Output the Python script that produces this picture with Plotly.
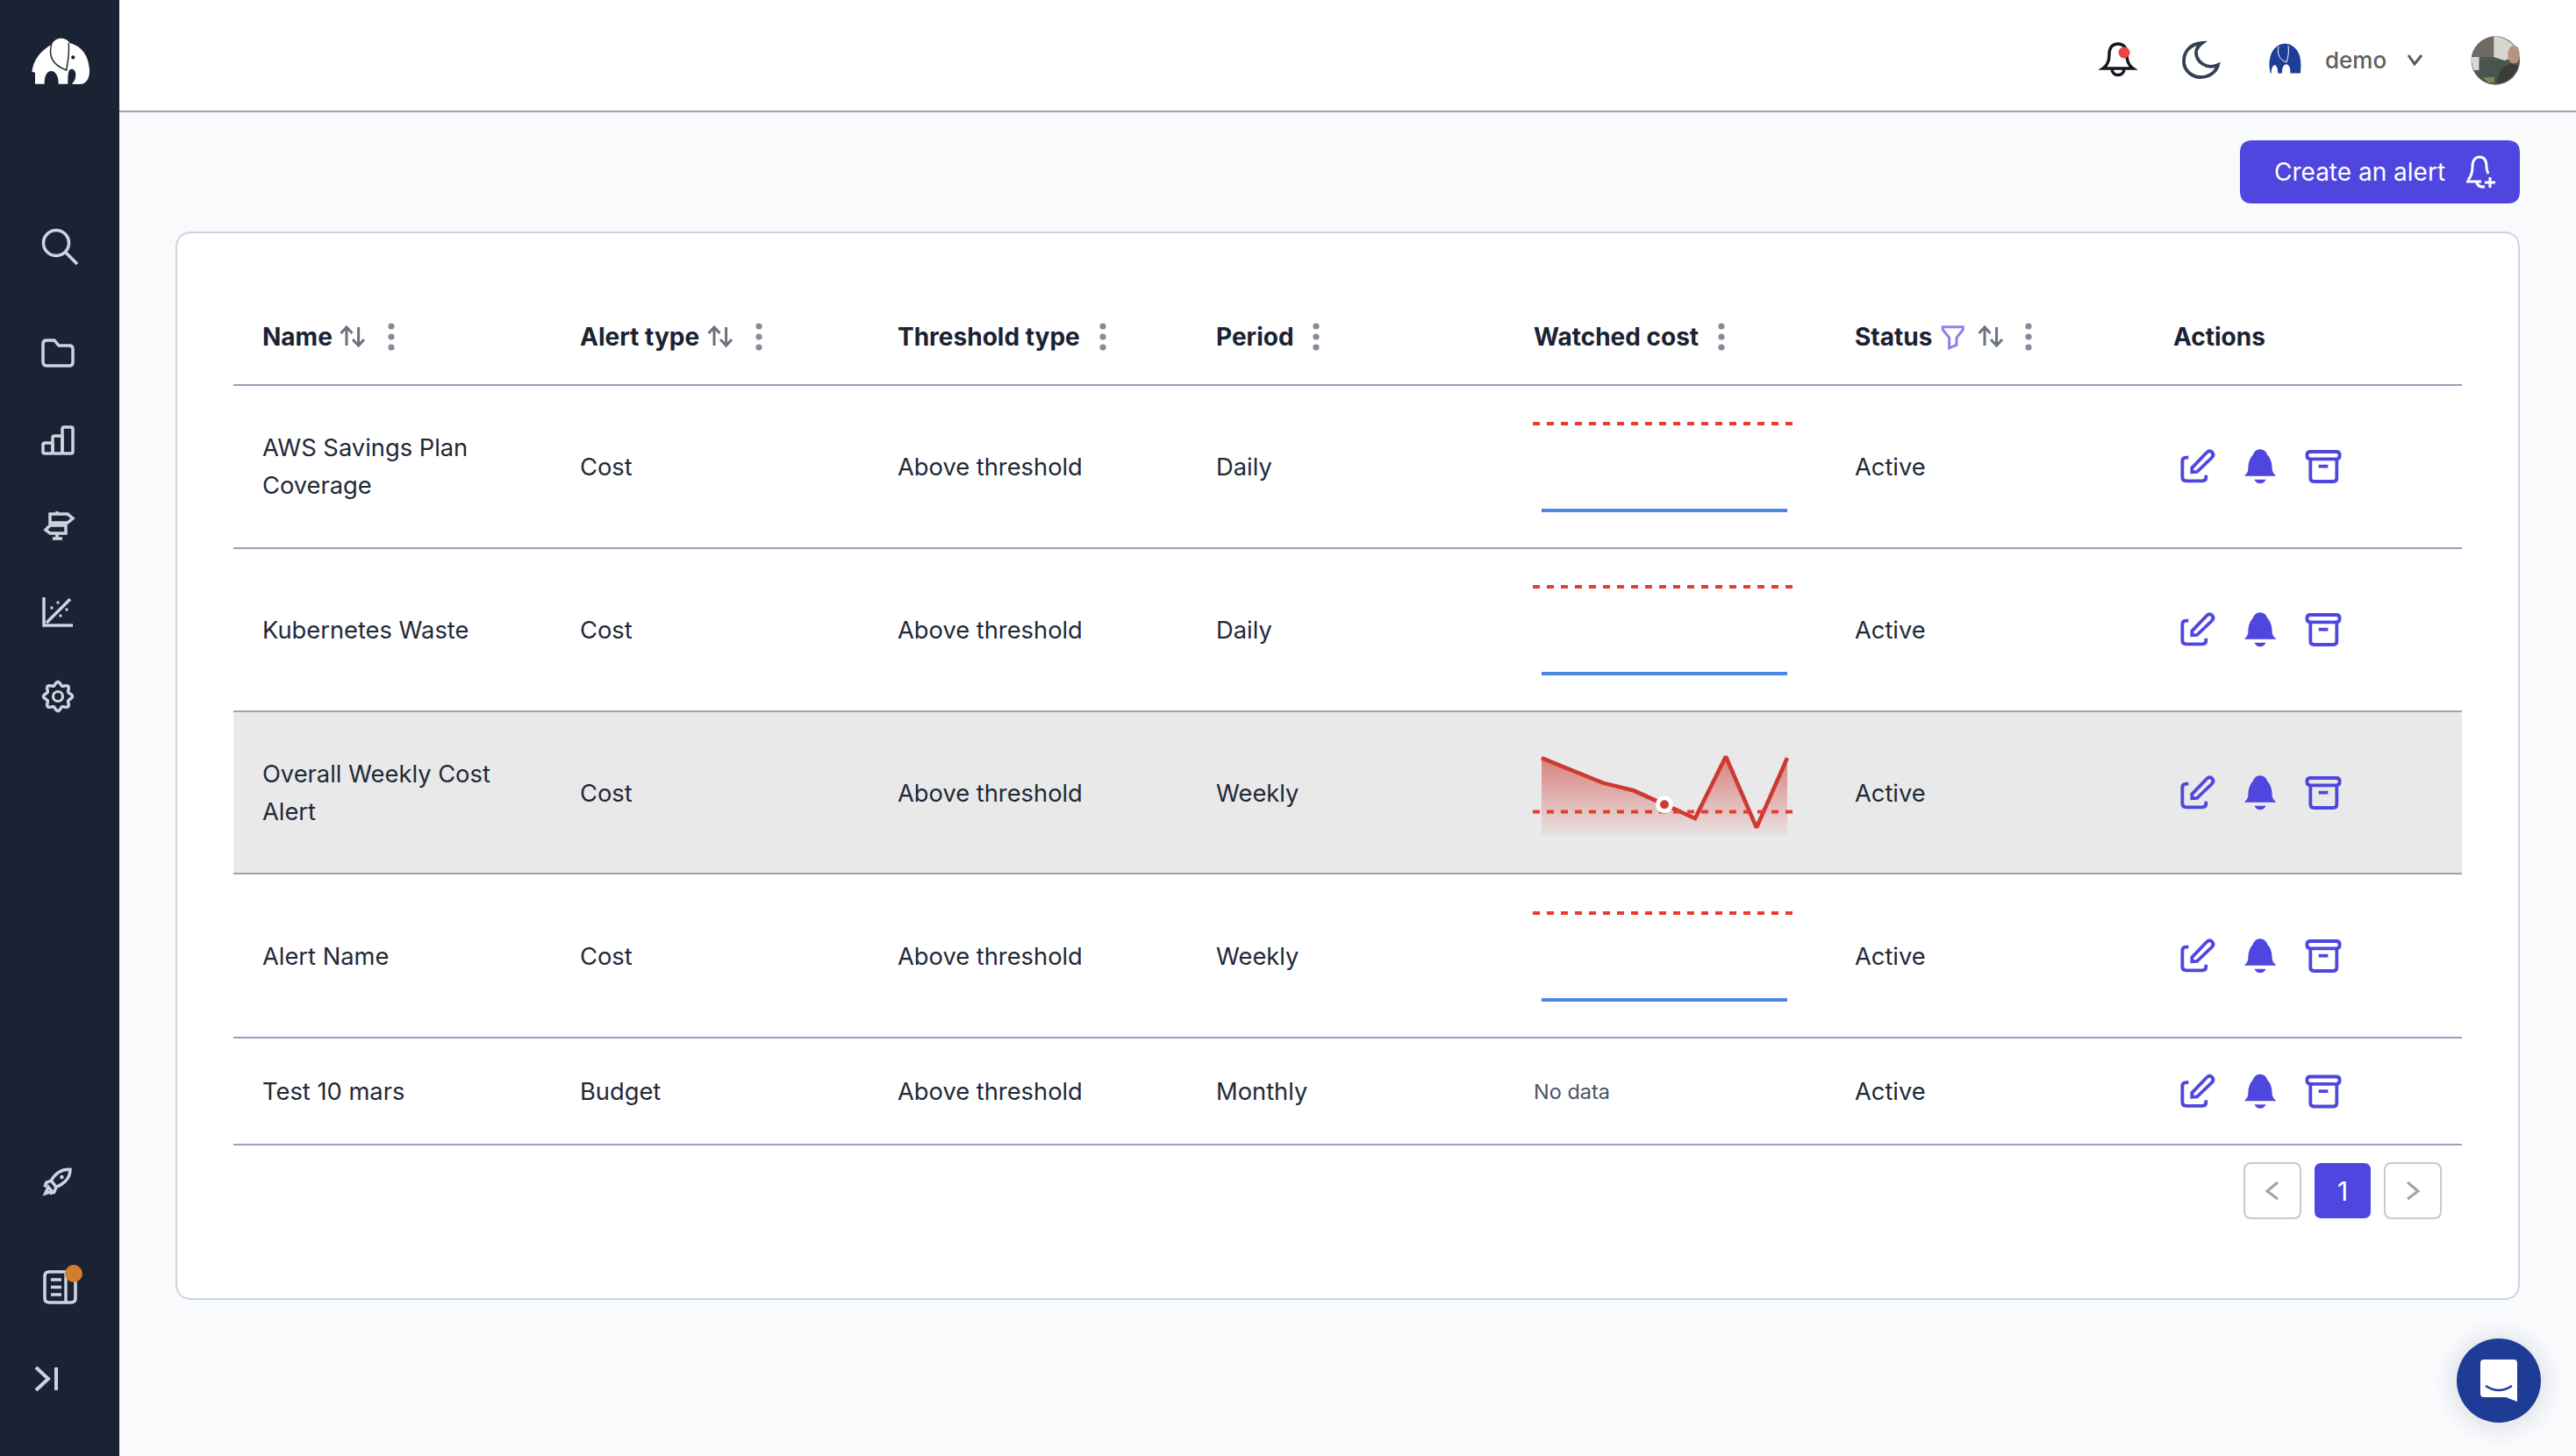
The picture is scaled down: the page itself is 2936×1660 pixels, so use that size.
import math
import re
import plotly.graph_objects as go

W, H = 2936, 1660

# table content
headers = ["Name", "Alert type", "Threshold type", "Period", "Watched cost", "Status", "Actions"]
names = [["AWS Savings Plan", "Coverage"], ["Kubernetes Waste"], ["Overall Weekly Cost", "Alert"],
         ["Alert Name"], ["Test 10 mars"]]
alert_types = ["Cost", "Cost", "Cost", "Cost", "Budget"]
threshold_types = ["Above threshold"] * 5
periods = ["Daily", "Daily", "Weekly", "Weekly", "Monthly"]
statuses = ["Active"] * 5

# watched cost sparklines, None = "No data"
threshold = 100
cost_aws = [0, 0, 0, 0, 0, 0, 0, 0, 0]
cost_k8s = [0, 0, 0, 0, 0, 0, 0, 0, 0]
cost_weekly = [326, 272, 221, 189, 130, 72, 332, 33, 326]
cost_alert = [0, 0, 0, 0, 0, 0, 0, 0, 0]
sparks = [cost_aws, cost_k8s, cost_weekly, cost_alert, None]

# layout
col_x = [296.5, 659, 1021, 1383.5, 1746, 2112, 2475]
row_y = [532, 718, 904, 1090, 1244.5]
row_lines = [439, 625, 811, 996, 1183, 1305]
table_l, table_r = 266, 2806
spark_zero_y = [582, 768, None, 1140]
spark_thr_y = [483, 669, None, 1041]

INDIGO = "#4f46e0"
SIDE = "#cbd5e1"
LINE = "#94a3b8"
INK = "#1a2333"
TEXT = "#1f2937"
FONT = "Inter"

shapes = []
notes = []


def tr(path, dx=0, dy=0, sx=1.0, sy=None):
    # move and scale an absolute M/L/C/Q/Z path into page pixels
    sy = sx if sy is None else sy
    out = []
    is_x = True
    for tok in re.findall(r"[MLCQZ]|-?\d+\.?\d*", path):
        if tok.isalpha():
            out.append(tok)
            is_x = True
        else:
            v = float(tok)
            out.append(f"{dx + v * sx:.2f}" if is_x else f"{dy + v * sy:.2f}")
            is_x = not is_x
    return " ".join(out)


def stroke(path, color=SIDE, width=3.5):
    shapes.append(dict(type="path", path=path, line=dict(color=color, width=width), xref="x", yref="y",
                       fillcolor="rgba(0,0,0,0)", layer="below"))


def solid(path, color):
    shapes.append(dict(type="path", path=path, fillcolor=color, line=dict(width=0), xref="x", yref="y", layer="below"))


def rect(x0, y0, x1, y1, fill=None, color=None, width=0):
    shapes.append(dict(type="rect", x0=x0, y0=y0, x1=x1, y1=y1, xref="x", yref="y", layer="below",
                       fillcolor=fill or "rgba(0,0,0,0)", line=dict(color=color or "rgba(0,0,0,0)", width=width)))


def rrect(x0, y0, x1, y1, r, fill=None, color=None, width=0):
    p = (f"M {x0 + r} {y0} L {x1 - r} {y0} Q {x1} {y0} {x1} {y0 + r} L {x1} {y1 - r} Q {x1} {y1} {x1 - r} {y1} "
         f"L {x0 + r} {y1} Q {x0} {y1} {x0} {y1 - r} L {x0} {y0 + r} Q {x0} {y0} {x0 + r} {y0} Z")
    shapes.append(dict(type="path", path=p, xref="x", yref="y", layer="below", fillcolor=fill or "rgba(0,0,0,0)",
                       line=dict(color=color or "rgba(0,0,0,0)", width=width)))


def circle(cx, cy, r, fill=None, color=None, width=0):
    shapes.append(dict(type="circle", x0=cx - r, y0=cy - r, x1=cx + r, y1=cy + r, xref="x", yref="y", layer="below",
                       fillcolor=fill or "rgba(0,0,0,0)", line=dict(color=color or "rgba(0,0,0,0)", width=width)))


def hline(x0, x1, y):
    shapes.append(dict(type="line", x0=x0, x1=x1, y0=y, y1=y, xref="x", yref="y", layer="below",
                       line=dict(color=LINE, width=2)))


def text(x, y, s, size=27.3, color=TEXT, weight=400, anchor="left"):
    notes.append(dict(x=x, y=y, xref="x", yref="y", text=s, showarrow=False, xanchor=anchor, yanchor="middle",
                      font=dict(family=FONT, size=size, color=color, weight=weight)))


ELEPHANT = ("M48 197 L48 158 L37 155 C42 120 62 85 105 62 C112 45 130 38 145 42 C160 46 165 55 167 58 "
            "C205 66 232 100 234 150 C235 180 222 198 200 198 L173 197 C183 190 187 178 187 165 "
            "C187 150 175 140 165 150 C160 158 160 180 160 197 L128 197 C128 170 118 153 103 153 "
            "C88 153 80 170 80 197 Z")
EAR = "M104 62 C95 95 100 130 155 150 C160 125 165 90 163 58"

# small header logo is narrower, with a stubbier outline
LOGO_SMALL = ("M6 44 C3 30 5 14 14 7 C19 2 28 2 33 7 C41 13 44 26 42 44 L30 44 C30 35 28 32 25 32 C22 32 20 35 20 44 "
              "L15 44 C15 36 13 32 10 33 C8 35 7 38 7 44 Z")

# page pieces
rect(0, 0, 136, H, fill="#1a2333")
rect(136, 0, W, 127, fill="#ffffff")
hline(136, W, 127)
rrect(201, 265, 2871, 1481, 18, fill="#ffffff", color="#cbd5e1", width=2)
rect(table_l, 811, table_r, 996, fill="#e9e9e9")
for y in row_lines:
    hline(table_l, table_r, y)

# sidebar
solid(tr(ELEPHANT, 24, 30, 1 / 3), "#ffffff")
stroke(tr(EAR, 24, 30, 1 / 3), "#1a2333", 1.4)
circle(24 + 178 / 3, 30 + 106 / 3, 2.2, fill="#1a2333")

circle(64, 277, 14.5, color=SIDE, width=3.6)
stroke("M 75 288 L 88 301", SIDE, 3.8)
stroke("M 49 412 L 49 392 Q 49 388 53 388 L 62 388 L 67 394 L 79 394 Q 83 394 83 398 L 83 413 Q 83 417 79 417 "
       "L 53 417 Q 49 417 49 412 Z")
rrect(49, 505, 60, 517, 2, color=SIDE, width=3.5)
rrect(60, 497, 71, 517, 2, color=SIDE, width=3.5)
rrect(71, 487, 83, 517, 2, color=SIDE, width=3.5)
stroke("M 57 586 L 77 586 L 83 591 L 77 596 L 57 596 Z")
stroke("M 52 604 L 57 599 L 75 599 L 75 608 L 57 608 Z")
stroke("M 65 583 L 65 586 M 65 608 L 65 614 M 60 614 L 71 614")
stroke("M 50 681 L 50 713 L 83 713 M 53 710 L 80 683")
for dx, dy in [(59, 693), (66, 687), (76, 695), (69, 702)]:
    circle(dx, dy, 1.7, fill=SIDE)
gear = []
for i in range(64):
    a = 2 * math.pi * i / 64
    r = 14.6 + 1.9 * math.cos(8 * a)
    gear.append(f"{'M' if i == 0 else 'L'} {66 + r * math.cos(a):.2f} {794 + r * math.sin(a):.2f}")
stroke(" ".join(gear) + " Z")
circle(66, 794, 5.5, color=SIDE, width=3.2)
stroke(tr("M240 100 C212 98 190 112 175 138 L192 160 C218 150 240 130 240 100 Z M175 138 L158 145 L153 160 "
          "M192 160 L185 178 L170 182 M165 160 L155 182 L178 175 Z", 0, 1300, 1 / 3))
circle(70.5, 1342, 2.2, fill=SIDE)
rrect(51, 1450, 86, 1485, 5, color=SIDE, width=3.6)
stroke("M 75 1450 L 75 1485 M 58 1459 L 70 1459 M 58 1467.5 L 70 1467.5 M 58 1476 L 70 1476", SIDE, 3.4)
circle(84, 1452, 10, fill="#d17f2e")
stroke("M 41 1559 L 55 1572 L 41 1585 M 64 1559 L 64 1585", SIDE, 4)

# top bar
stroke("M 2397 78 C 2403 74 2404 68 2404 62 C 2404 54 2408 50 2414 50 C 2420 50 2424 54 2424 62 C 2424 68 2425 74 "
       "2431 78 L 2397 78 Z M 2407 78 C 2407 88 2421 88 2421 78", "#15171f", 3.5)
circle(2421, 60, 6.5, fill="#ef4444")
stroke("M 2510 49 C 2495 50 2489 60 2489 70 C 2489 80 2498 88 2508 88 C 2518 88 2526 82 2528 74 "
       "C 2515 80 2503 70 2503 60 C 2503 56 2506 52 2510 49 Z", "#334155", 3.8)
solid(tr(LOGO_SMALL, 2582, 47, 0.95, 0.83), "#1e3d96")
stroke("M 2597 53 C 2595 62 2598 68 2606 71 C 2608 66 2609 58 2608 52", "#ffffff", 1)
text(2648, 68, "demo", size=26, color="#5f5f5f", weight=500)
stroke("M 2745 63 L 2752 73 L 2760 63", "#555b66", 3)

# avatar, roughly
circle(2844.3, 69, 27.7, fill="#55584f")
for p, c in [("M38 90 C50 55 80 32 112 30 L112 100 L38 100 Z", "#6e6a62"),
             ("M112 29 C150 30 185 55 198 90 L150 112 L112 100 Z", "#d8d5ce"),
             ("M36 100 L62 100 L62 145 L44 145 C38 130 35 115 36 100 Z", "#d5dbdc"),
             ("M62 112 L150 112 L150 180 L100 193 C85 188 70 178 62 166 Z", "#47554f"),
             ("M75 170 L115 168 L112 188 L92 188 Z", "#7c8a52"),
             ("M122 192 C125 150 145 130 170 122 L196 130 C190 155 165 185 122 192 Z", "#3d3d35"),
             ("M160 92 C160 70 172 60 182 60 C192 60 200 72 200 92 C200 110 195 122 180 122 C168 122 160 110 160 92 Z",
              "#b89480")]:
    solid(tr(p, 2805, 31.7, 1 / 3), c)

rrect(2553, 160, 2872, 232, 14, fill=INDIGO)
text(2589.5, 196, "Create an alert", size=28, color="#ffffff", weight=400)
stroke("M 2813 205 C 2818 200 2818 192 2818 190 C 2818 182 2822 179 2826 179 C 2831 179 2834 182 2834 190 "
       "C 2834 194 2835 196 2836 198 M 2811 207 L 2828 207 M 2823 207 C 2823 213 2828 213 2832 213 "
       "M 2832 208 L 2844 208 M 2838 202 L 2838 214", "#ffffff", 3)

# table header
for x, h in zip(col_x, headers):
    text(x, 384, h, size=28, color=INK, weight=700)
for x in [446, 865, 1257, 1500, 1962, 2312]:
    for dy in (-12, 0, 12):
        circle(x, 384 + dy, 3.6, fill="#868b99")
for off in [0, 419, 1867]:
    stroke(tr("M395 394 L395 373 M388.5 380 L395 373 L401.5 380 M408.6 373 L408.6 394 M402 387 L408.6 394 L415 387",
              off, 0), "#6b7280", 3)
stroke(tr("M283 68 L352 68 L352 78 L330 105 L330 130 L305 140 L305 105 L283 78 Z", 2120, 350, 1 / 3), "#8b83ee", 3)

# table rows
for i, y in enumerate(row_y):
    lines = names[i]
    for j, line in enumerate(lines):
        text(col_x[0], y + (j - (len(lines) - 1) / 2) * 43, line)
    text(col_x[1], y, alert_types[i])
    text(col_x[2], y, threshold_types[i])
    text(col_x[3], y, periods[i])
    text(col_x[5], y, statuses[i])
    if sparks[i] is None:
        text(col_x[4], y, "No data", size=23.5, color="#4b5563")
    # action icons
    top = y - 52
    stroke(tr("M163 125 L155 125 Q142 125 142 138 L142 192 Q142 205 155 205 L210 205 Q223 205 223 192 L223 185",
              2440, top, 1 / 3), INDIGO, 3.8)
    stroke(tr("M175 160 L225 108 Q235 98 244 107 Q252 116 242 126 L192 174 L175 175 Z", 2440, top, 1 / 3), INDIGO, 3.8)
    solid(tr("M408 97 C425 97 430 110 434 118 C446 130 449 150 449 165 C450 180 462 184 462 188 L355 188 "
             "C355 184 366 180 367 165 C367 150 370 130 382 118 C386 110 391 97 408 97 Z", 2440, top, 1 / 3), INDIGO)
    solid(tr("M388 200 L428 200 Q420 214 408 214 Q396 214 388 200 Z", 2440, top, 1 / 3), INDIGO)
    rrect(2440 + 568 / 3, top + 105 / 3, 2440 + 680 / 3, top + 130 / 3, 4, color=INDIGO, width=3.8)
    stroke(tr("M580 130 L580 195 Q580 207 592 207 L658 207 Q670 207 670 195 L670 130 M608 155 L640 155",
              2440, top, 1 / 3), INDIGO, 3.8)

# pagination
rrect(2558, 1326, 2622, 1389, 8, fill="#ffffff", color="#c5cad3", width=2)
rrect(2638, 1326, 2702, 1389, 8, fill=INDIGO)
rrect(2718, 1326, 2782, 1389, 8, fill="#ffffff", color="#c5cad3", width=2)
text(2670, 1358, "1", size=30, color="#ffffff", anchor="center")
stroke("M 2596 1348 L 2584 1358 L 2596 1367", "#a3a3a3", 3)
stroke("M 2744 1348 L 2756 1358 L 2744 1367", "#a3a3a3", 3)

# chat bubble
for r, a in [(70, 0.012), (64, 0.014), (58, 0.018), (53, 0.025)]:
    circle(2848, 1576, r, fill=f"rgba(30,41,59,{a})")
circle(2848, 1574, 48, fill="#1e3c96")
solid("M 2831 1550 L 2865 1550 Q 2869 1550 2869 1554 L 2869 1598 L 2856 1593 L 2831 1593 Q 2827 1593 2827 1589 "
      "L 2827 1554 Q 2827 1550 2831 1550 Z", "#ffffff")
stroke("M 2833 1580 Q 2848 1590 2863 1580", "#1e3c96", 2.4)

# sparklines on their own small axes
fig = go.Figure()
fig.add_trace(go.Scatter(x=[0, W], y=[0, H], mode="markers", marker=dict(opacity=0), showlegend=False))

layout_axes = {}
x_lo, x_hi = -10 / 35, 8 + 6 / 35
for i, vals in enumerate(sparks[:4]):
    ax = i + 2
    if i == 2:
        zero, ppu, top, bottom = 952.5, 0.271, 850, 962
    else:
        zero, ppu = spark_zero_y[i], (spark_zero_y[i] - spark_thr_y[i]) / threshold
        top, bottom = spark_thr_y[i] - 12, zero + 12
    layout_axes[f"xaxis{ax}"] = dict(domain=[1747 / W, 2043 / W], range=[x_lo, x_hi], visible=False,
                                     anchor=f"y{ax}", fixedrange=True)
    layout_axes[f"yaxis{ax}"] = dict(domain=[1 - bottom / H, 1 - top / H],
                                     range=[(zero - bottom) / ppu, (zero - top) / ppu],
                                     visible=False, anchor=f"x{ax}", fixedrange=True)
    xs = list(range(len(vals)))
    common = dict(xaxis=f"x{ax}", yaxis=f"y{ax}", showlegend=False)
    if i == 2:
        fig.add_trace(go.Scatter(x=xs, y=vals, mode="lines", line=dict(color="#cd3a32", width=4.6), fill="tozeroy",
                                 fillgradient=dict(type="vertical",
                                                   colorscale=[[0, "rgba(205,58,50,0.04)"], [1, "rgba(205,58,50,0.6)"]]),
                                 **common))
        fig.add_trace(go.Scatter(x=[x_lo, x_hi], y=[threshold, threshold], mode="lines",
                                 line=dict(color="#ea3b30", width=4, dash="8px,8px"), **common))
        fig.add_trace(go.Scatter(x=[xs[4]], y=[vals[4]], mode="markers",
                                 marker=dict(color="#cd3a32", size=15, line=dict(color="#ffffff", width=5)), **common))
    else:
        fig.add_trace(go.Scatter(x=[x_lo, x_hi], y=[threshold, threshold], mode="lines",
                                 line=dict(color="#ea3b30", width=4, dash="8px,8px"), **common))
        fig.add_trace(go.Scatter(x=xs, y=vals, mode="lines", line=dict(color="#4a88e0", width=4), **common))

fig.update_layout(
    width=W, height=H, margin=dict(l=0, r=0, t=0, b=0), autosize=False,
    paper_bgcolor="#f9fafc", plot_bgcolor="rgba(0,0,0,0)", showlegend=False, hovermode=False,
    font=dict(family=FONT),
    xaxis=dict(range=[0, W], domain=[0, 1], visible=False, fixedrange=True),
    yaxis=dict(range=[H, 0], domain=[0, 1], visible=False, fixedrange=True),
    shapes=shapes, annotations=notes, **layout_axes,
)

fig.write_html("out.html", config=dict(displayModeBar=False),
               post_script="document.body.style.margin='0';document.body.style.overflow='hidden';")
